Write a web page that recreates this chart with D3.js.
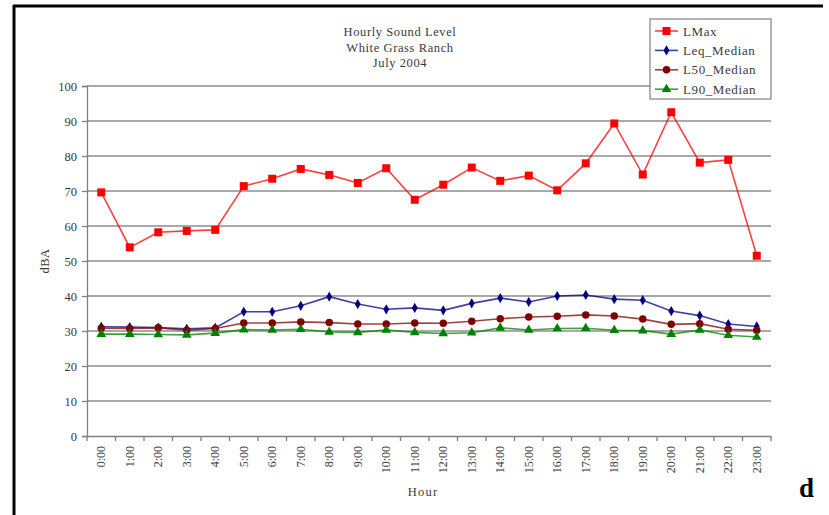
<!DOCTYPE html>
<html><head><meta charset="utf-8">
<script src="https://cdn.jsdelivr.net/npm/d3@7"></script>
<style>
html,body{margin:0;padding:0;background:#fff;}
text{font-family:"Liberation Serif","DejaVu Serif",serif;fill:#3a3a3a;}
</style></head>
<body><svg id="c" width="829" height="515"></svg>
<script>
const hours = ["0:00","1:00","2:00","3:00","4:00","5:00","6:00","7:00","8:00","9:00","10:00","11:00","12:00","13:00","14:00","15:00","16:00","17:00","18:00","19:00","20:00","21:00","22:00","23:00"];
const lmax = [69.6,53.9,58.2,58.6,58.9,71.4,73.5,76.3,74.6,72.3,76.5,67.5,71.8,76.7,72.9,74.4,70.2,77.9,89.3,74.7,92.5,78.1,78.9,51.5];
const leq = [31.2,31.1,31.0,30.6,30.9,35.5,35.5,37.2,39.8,37.7,36.2,36.6,35.9,37.9,39.4,38.3,40.0,40.3,39.1,38.8,35.7,34.4,32.0,31.3];
const l50 = [30.8,30.7,30.9,30.2,30.7,32.3,32.3,32.6,32.4,32.0,32.0,32.3,32.2,32.8,33.5,34.0,34.2,34.6,34.3,33.4,31.9,32.1,30.5,30.2];
const l90 = [29.1,29.1,29.0,28.9,29.4,30.4,30.3,30.5,29.7,29.6,30.3,29.6,29.3,29.5,30.9,30.3,30.7,30.8,30.2,30.1,29.1,30.3,28.8,28.3];
const yTicks = [0,10,20,30,40,50,60,70,80,90,100];
const titleLines = ["Hourly Sound Level","White Grass Ranch","July 2004"];
const seriesNames = ["LMax","Leq_Median","L50_Median","L90_Median"];
const seriesColors = ["#ff0000","#000080","#800000","#008000"];
const seriesSymbols = [d3.symbolSquare, d3.symbolDiamond, d3.symbolCircle, d3.symbolTriangle];
const seriesSizes = [64, 30, 44, 40];
const seriesData = [lmax, leq, l50, l90];

const svg = d3.select("#c");
const L = 87, R = 771, T = 86, B = 436;
const x = d3.scaleBand().domain(hours).range([L, R]);
const y = d3.scaleLinear().domain([0,100]).range([B, T]);

// frame
svg.append("line").attr("x1",14).attr("x2",14).attr("y1",5).attr("y2",515).attr("stroke","#000").attr("stroke-width",3);
svg.append("line").attr("x1",13).attr("x2",823).attr("y1",6).attr("y2",6).attr("stroke","#000").attr("stroke-width",3);

// grid
svg.append("g").selectAll("line").data(yTicks.slice(1)).join("line")
  .attr("x1",L).attr("x2",R).attr("y1",d=>y(d)).attr("y2",d=>y(d))
  .attr("stroke","#8c8c8c").attr("stroke-width",1.3);

// y axis
const ya = svg.append("g").attr("transform",`translate(${L},0)`)
  .call(d3.axisLeft(y).tickValues(yTicks).tickSize(5).tickPadding(5));
ya.select(".domain").attr("stroke","#808080").attr("stroke-width",1.3);
ya.selectAll(".tick line").attr("stroke","#808080").attr("stroke-width",1.3);
ya.selectAll(".tick text").attr("font-size",12.5).attr("font-family","Liberation Serif, serif").attr("fill","#3a3a3a");

// x axis
const xa = svg.append("g").attr("transform",`translate(0,${B})`)
  .call(d3.axisBottom(x).tickSize(0).tickPadding(0));
xa.select(".domain").attr("stroke","#808080").attr("stroke-width",1.3);
xa.selectAll(".tick text").attr("font-size",12).attr("font-family","Liberation Serif, serif").attr("fill","#3a3a3a")
  .attr("transform","rotate(-90)").attr("text-anchor","end").attr("x",-10).attr("y",0).attr("dy","0.35em");
svg.append("g").selectAll("line").data(d3.range(hours.length+1)).join("line")
  .attr("x1",d=>L+d*x.step()).attr("x2",d=>L+d*x.step()).attr("y1",B).attr("y2",B+5)
  .attr("stroke","#808080").attr("stroke-width",1.3);

// series
const cx = d => x(d) + x.bandwidth()/2;
seriesData.forEach((vals,i)=>{
  const line = d3.line().x((d,j)=>cx(hours[j])).y(d=>y(d));
  svg.append("path").datum(vals).attr("d",line).attr("fill","none")
    .attr("stroke",seriesColors[i]).attr("stroke-opacity",0.75).attr("stroke-width",1.6);
});
seriesData.forEach((vals,i)=>{
  svg.append("g").selectAll("path").data(vals).join("path")
    .attr("transform",(d,j)=>`translate(${cx(hours[j])},${y(d)})`)
    .attr("d",d3.symbol().type(seriesSymbols[i]).size(seriesSizes[i]))
    .attr("fill",seriesColors[i]);
});

// title
svg.append("g").selectAll("text").data(titleLines).join("text")
  .attr("x",400).attr("y",(d,i)=>36+i*15.5).attr("text-anchor","middle")
  .attr("font-size",12.5).attr("letter-spacing",0.6).text(d=>d);

// axis titles
svg.append("text").attr("transform","translate(49,261) rotate(-90)").attr("text-anchor","middle")
  .attr("font-size",12.5).attr("letter-spacing",0.5).text("dBA");
svg.append("text").attr("x",423).attr("y",496).attr("text-anchor","middle")
  .attr("font-size",12.5).attr("letter-spacing",1.2).text("Hour");

// legend
const lg = svg.append("g");
lg.append("rect").attr("x",650).attr("y",19).attr("width",121).attr("height",80)
  .attr("fill","#fff").attr("stroke","#808080").attr("stroke-width",1.2);
seriesNames.forEach((n,i)=>{
  const yy = 31 + i*19.4;
  lg.append("line").attr("x1",655).attr("x2",678).attr("y1",yy).attr("y2",yy)
    .attr("stroke",seriesColors[i]).attr("stroke-opacity",0.75).attr("stroke-width",1.6);
  lg.append("path").attr("transform",`translate(666.5,${yy})`)
    .attr("d",d3.symbol().type(seriesSymbols[i]).size(seriesSizes[i])).attr("fill",seriesColors[i]);
  lg.append("text").attr("x",683).attr("y",yy).attr("dy","0.35em").attr("font-size",13)
    .attr("letter-spacing",0.6).text(n);
});

// panel letter
svg.append("text").attr("x",799).attr("y",497).attr("font-size",27).attr("font-weight","bold")
  .style("fill","#000").text("d");
</script></body></html>
